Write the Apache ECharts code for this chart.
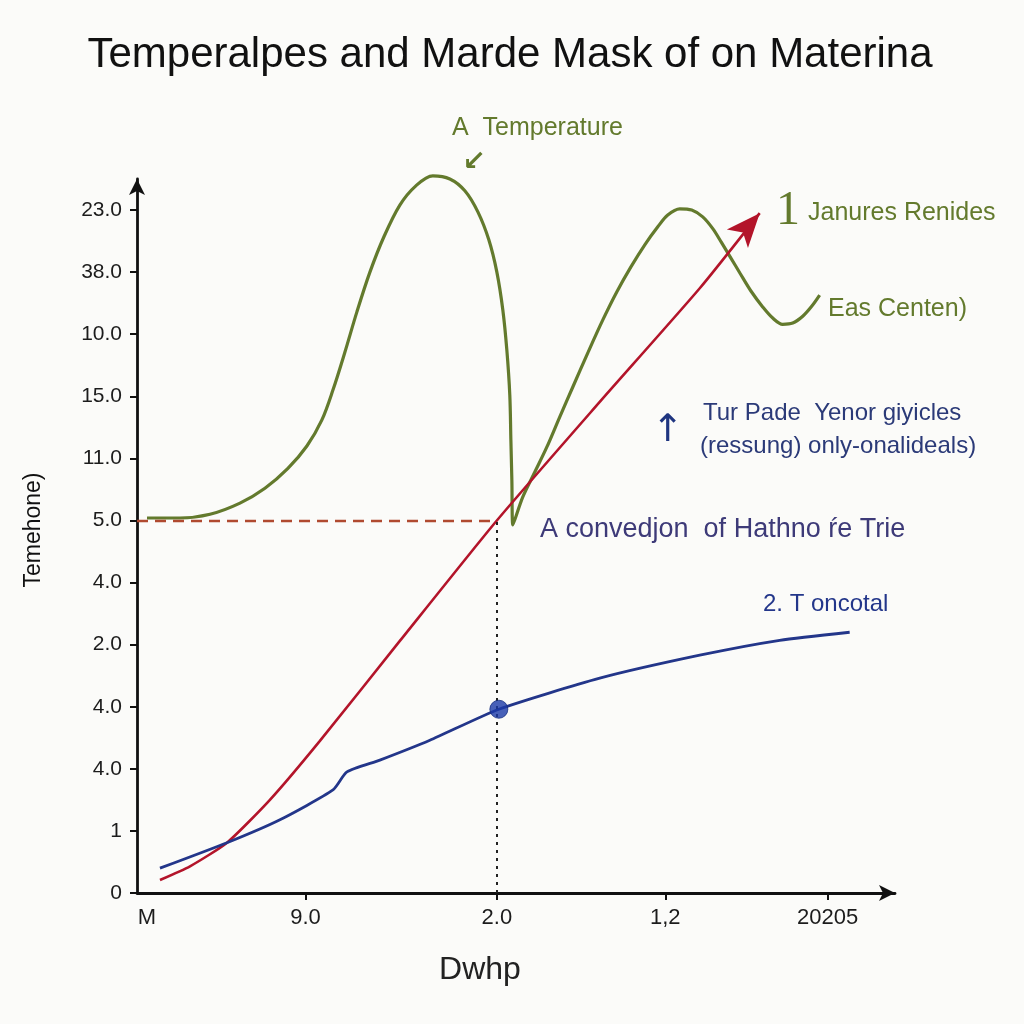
<!DOCTYPE html>
<html>
<head>
<meta charset="utf-8">
<script src="https://cdn.jsdelivr.net/npm/echarts@6/dist/echarts.min.js"></script>
<style>html,body{margin:0;padding:0;background:#fbfbf9;}#chart{width:1024px;height:1024px;}</style>
</head>
<body>
<div id="chart"></div>
<script>
// ---- data ----
const yTickValues = [0,1,2,3,4,5,6,7,8,9,10,11];
const yTickLabels = ['0','1','4.0','4.0','2.0','4.0','5.0','11.0','15.0','10.0','38.0','23.0'];
const xTickValues = [1.3, 22, 47, 69, 90.2];
const xTickLabels = ['M','9.0','2.0','1,2','20205'];
const xTickMarks = [22, 47, 69, 90.2];

const temperatureX = [1.31,5.61,9.53,13.45,16.71,19.71,22.19,24.15,25.59,27.15,28.72,30.42,32.25,34.33,36.42,38.64,40.86,42.82,44.52,45.95,47.00,47.78,48.30,48.69,48.83,48.96,49.09,
  50.39,51.96,53.52,55.22,56.92,58.88,60.84,62.66,64.49,66.32,68.02,69.32,70.89,72.45,73.89,75.20,76.37,77.55,78.72,80.16,81.72,83.03,84.33,85.64,86.95,88.12,89.16];
const temperatureY = [6.04,6.04,6.10,6.28,6.52,6.84,7.20,7.62,8.10,8.71,9.36,10.00,10.57,11.08,11.39,11.55,11.50,11.31,10.97,10.52,10.00,9.39,8.75,8.02,7.30,6.65,5.93,
  6.38,6.78,7.18,7.67,8.15,8.70,9.23,9.68,10.08,10.44,10.73,10.92,11.02,11.00,10.89,10.70,10.47,10.23,9.99,9.70,9.44,9.26,9.16,9.18,9.29,9.45,9.63];

const redX = [3.0,6.92,11.75,17.36,23.89,34.33,47.0,60.44,73.5,81.33];
const redY = [0.21,0.43,0.81,1.50,2.45,4.06,6.0,7.91,9.74,10.95];

const blueX = [3.0,11.75,18.67,25.59,27.42,31.72,38.25,47.26,60.44,73.5,83.94,93.08];
const blueY = [0.40,0.81,1.18,1.66,1.95,2.14,2.46,2.96,3.46,3.83,4.07,4.20];

const refX = 47, refY = 6;      // reference crossing
const blueDot = [47.26, 2.96];

// ---- build ----
const zip = (xs, ys) => xs.map((x, i) => [x, ys[i]]);
const redData = zip(redX, redY).map((p, i, a) => i === a.length - 1
  ? {value: p, symbol: 'arrow', symbolSize: [21, 34], symbolRotate: -41, itemStyle: {color: '#b3142a'}}
  : {value: p, symbol: 'none'});

const GREEN = '#637a2d';
const FONT = '"Liberation Sans", Arial, sans-serif';

const chart = echarts.init(document.getElementById('chart'));
chart.setOption({
  backgroundColor: '#fbfbf9',
  animation: false,
  grid: {left: 137, right: 129, top: 179, bottom: 131, containLabel: false},
  xAxis: {
    type: 'value', min: 0, max: 99,
    axisLine: {show: true, symbol: ['none', 'arrow'], symbolSize: [12, 16], lineStyle: {color: '#111', width: 2.8}},
    axisTick: {show: true, customValues: xTickMarks, length: 7, inside: false, lineStyle: {color: '#111', width: 2}},
    axisLabel: {customValues: xTickValues, margin: 14, color: '#1c1c1c', fontSize: 22, fontFamily: FONT,
      formatter: v => { const i = xTickValues.findIndex(t => Math.abs(t - v) < 1e-6); return i >= 0 ? xTickLabels[i] : ''; }},
    splitLine: {show: false}
  },
  yAxis: {
    type: 'value', min: 0, max: 11.5,
    axisLine: {show: true, symbol: ['none', 'arrow'], symbolSize: [12, 16], lineStyle: {color: '#111', width: 2.8}},
    axisTick: {show: true, customValues: yTickValues, length: 7, lineStyle: {color: '#111', width: 2}},
    axisLabel: {customValues: yTickValues, margin: 15, color: '#1c1c1c', fontSize: 21, fontFamily: FONT,
      formatter: v => { const i = yTickValues.indexOf(Math.round(v)); return i >= 0 ? yTickLabels[i] : ''; }},
    splitLine: {show: false}
  },
  series: [
    {
      name: 'Temperature', type: 'line', data: zip(temperatureX, temperatureY), smooth: 0.33,
      symbol: 'none', clip: false, lineStyle: {color: GREEN, width: 3.2}, z: 3
    },
    {
      name: 'Janures Renides', type: 'line', data: redData, smooth: 0.2, clip: false,
      lineStyle: {color: '#b3142a', width: 2.6}, itemStyle: {color: '#b3142a'}, z: 4,
      markLine: {
        silent: true, symbol: 'none', label: {show: false},
        data: [
          [{coord: [0, refY], lineStyle: {type: [11, 7], color: '#b04a30', width: 2.4}}, {coord: [refX, refY]}],
          [{coord: [refX, 0], lineStyle: {type: [3, 5], color: '#222', width: 2}}, {coord: [refX, refY]}]
        ]
      }
    },
    {
      name: '2. T oncotal', type: 'line', data: zip(blueX, blueY), smooth: 0.2, symbol: 'none',
      lineStyle: {color: '#23368a', width: 2.8}, z: 4
    },
    {
      type: 'scatter', data: [blueDot], symbol: 'circle', symbolSize: 18,
      itemStyle: {color: '#1a3aa8', borderColor: '#16307f', borderWidth: 1}, z: 6
    }
  ],
  graphic: [
    {type: 'text', x: 510, y: 55, style: {text: 'Temperalpes and Marde Mask of on Materina', font: '42px ' + FONT, fill: '#111', align: 'center', verticalAlign: 'middle'}},
    {type: 'text', x: 452, y: 128, style: {text: 'A  Temperature', font: '25px ' + FONT, fill: GREEN, align: 'left', verticalAlign: 'middle'}},
    {type: 'text', x: 474, y: 163, style: {text: '↙', font: 'bold 28px "DejaVu Sans"', fill: GREEN, align: 'center', verticalAlign: 'middle'}},
    {type: 'text', x: 788, y: 211, style: {text: '1', font: '48px "Liberation Serif", serif', fill: GREEN, align: 'center', verticalAlign: 'middle'}},
    {type: 'text', x: 808, y: 213, style: {text: 'Janures Renides', font: '25px ' + FONT, fill: GREEN, align: 'left', verticalAlign: 'middle'}},
    {type: 'text', x: 828, y: 309, style: {text: 'Eas Centen)', font: '25px ' + FONT, fill: GREEN, align: 'left', verticalAlign: 'middle'}},
    {type: 'text', x: 668, y: 431, style: {text: '↑', font: '38px "DejaVu Sans"', fill: '#1f3580', align: 'center', verticalAlign: 'middle'}},
    {type: 'text', x: 703, y: 413, style: {text: 'Tur Pade  Yenor giyicles', font: '24px ' + FONT, fill: '#2b3a78', align: 'left', verticalAlign: 'middle'}},
    {type: 'text', x: 700, y: 446, style: {text: '(ressung) only-onalideals)', font: '24px ' + FONT, fill: '#2b3a78', align: 'left', verticalAlign: 'middle'}},
    {type: 'text', x: 540, y: 530, style: {text: 'A convedjon  of Hathno ŕe Trie', font: '27px ' + FONT, fill: '#3d3a78', align: 'left', verticalAlign: 'middle'}},
    {type: 'text', x: 763, y: 604, style: {text: '2. T oncotal', font: '24px ' + FONT, fill: '#23368a', align: 'left', verticalAlign: 'middle'}},
    {type: 'text', x: 480, y: 970, style: {text: 'Dwhp', font: '32px ' + FONT, fill: '#222', align: 'center', verticalAlign: 'middle'}},
    {type: 'text', x: 34, y: 530, rotation: Math.PI / 2, style: {text: 'Temehone)', font: '23px ' + FONT, fill: '#111', align: 'center', verticalAlign: 'middle'}}
  ]
});
</script>
</body>
</html>
